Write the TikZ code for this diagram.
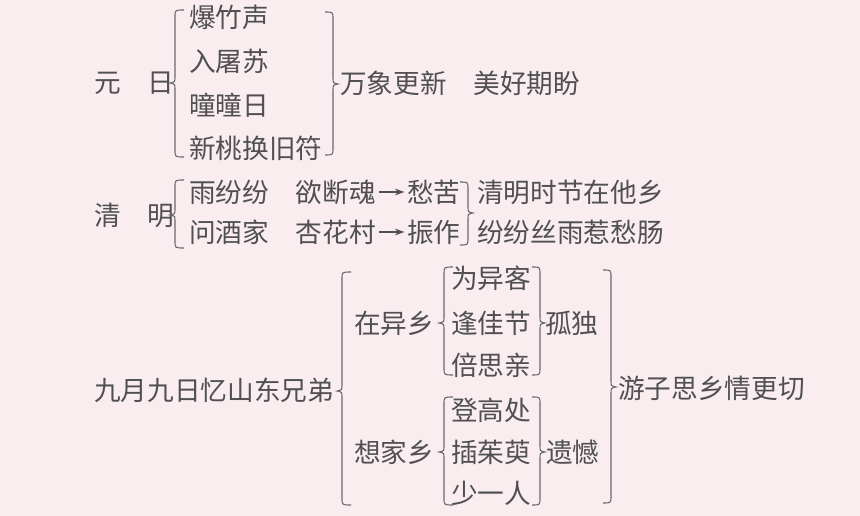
\documentclass[tikz,border=0pt]{standalone}
\usepackage{fontspec}
\setmainfont{Noto Sans CJK SC}
\usetikzlibrary{arrows.meta}
\definecolor{bgpink}{RGB}{250,237,240}
\definecolor{txt}{RGB}{80,80,80}
\definecolor{brc}{RGB}{105,105,105}
\newcommand\LBr[4]{% X, top, bottom, middle : tip points left
  \draw[bracestyle] (#1+9,#2) .. controls (#1,#2) .. (#1,#2+7) -- (#1,#4-6)
    .. controls (#1,#4-1) .. (#1-5,#4) .. controls (#1,#4+1) .. (#1,#4+6)
    -- (#1,#3-7) .. controls (#1,#3) .. (#1+9,#3);}
\newcommand\RBr[4]{% X, top, bottom, middle : tip points right
  \draw[bracestyle] (#1-8,#2) .. controls (#1,#2) .. (#1,#2+7) -- (#1,#4-6)
    .. controls (#1,#4-1) .. (#1+5,#4) .. controls (#1,#4+1) .. (#1,#4+6)
    -- (#1,#3-7) .. controls (#1,#3) .. (#1-8,#3);}
\tikzset{
  lbl/.style={anchor=west, inner sep=0pt, text=txt, font=\fontsize{20pt}{24pt}\selectfont},
  bracestyle/.style={draw=brc, line width=0.8pt},
  arr/.style={draw=txt, line width=0.8pt, -{Stealth[length=7pt,width=5pt]}, shorten <=2pt, shorten >=2pt}
}
\begin{document}
\begin{tikzpicture}[x=0.75pt,y=-0.75pt]
\fill[bgpink] (0,0) rectangle (860,516);
\useasboundingbox (0,0) rectangle (860,516);
% Section 1
\node[lbl] (yr) at (94,83) {元　日};
\node[lbl] (y1) at (189,17) {爆竹声};
\node[lbl] (y2) at (189,61) {入屠苏};
\node[lbl] (y3) at (189,105) {曈曈日};
\node[lbl] (y4) at (189,148) {新桃换旧符};
\node[lbl] (yres) at (340,83) {万象更新　美好期盼};
\LBr{175}{10}{157}{83}
\RBr{333}{12}{155}{84}
% Section 2
\node[lbl] (qm) at (94,215) {清　明};
\node[lbl] (q1) at (189,192) {雨纷纷　欲断魂};
\node[lbl] (q2) at (189,232) {问酒家　杏花村};
\node[lbl] (q1r) at (407,192) {愁苦};
\node[lbl] (q2r) at (407,232) {振作};
\node[lbl] (q3) at (477,192) {清明时节在他乡};
\node[lbl] (q4) at (477,232) {纷纷丝雨惹愁肠};
\draw[arr] (q1.east) -- (q1r.west);
\draw[arr] (q2.east) -- (q2r.west);
\LBr{175}{180}{248}{215}
\RBr{468}{182}{245}{213}
% Section 3
\node[lbl] (jy) at (94,390) {九月九日忆山东兄弟};
\node[lbl] (zy) at (354,323) {在异乡};
\node[lbl] (xj) at (354,452) {想家乡};
\node[lbl] (a1) at (451,278) {为异客};
\node[lbl] (a2) at (451,323) {逢佳节};
\node[lbl] (a3) at (451,365) {倍思亲};
\node[lbl] (b1) at (451,410) {登高处};
\node[lbl] (b2) at (451,452) {插茱萸};
\node[lbl] (b3) at (451,493) {少一人};
\node[lbl] (gd) at (545,323) {孤独};
\node[lbl] (yh) at (546,452) {遗憾};
\node[lbl] (yz) at (618,388) {游子思乡情更切};
\LBr{342}{272}{505}{391}
\LBr{444}{267}{375}{323}
\RBr{540}{267}{375}{323}
\LBr{444}{397}{505}{452}
\RBr{540}{397}{505}{452}
\RBr{611}{270}{503}{387}
\end{tikzpicture}
\end{document}
